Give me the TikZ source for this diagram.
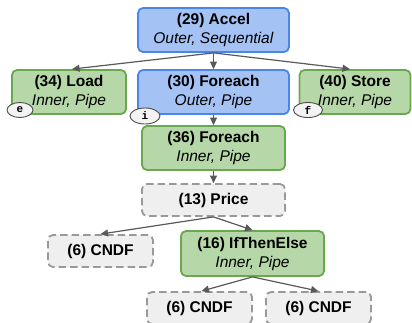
\documentclass[tikz,border=0pt]{standalone}
\usepackage{fontspec}
\setmainfont{Liberation Sans}
\setmonofont{Liberation Mono}
\usetikzlibrary{arrows.meta,shapes.geometric}
\definecolor{bluefill}{HTML}{A4C2F4}
\definecolor{blueline}{HTML}{4A86E8}
\definecolor{greenfill}{HTML}{B6D7A8}
\definecolor{greenline}{HTML}{6AA84F}
\definecolor{grayfill}{HTML}{EFEFEF}
\definecolor{grayline}{HTML}{999999}
\definecolor{arrowcol}{HTML}{595959}
\definecolor{lblfill}{HTML}{F3F3F3}
\begin{document}
\begin{tikzpicture}[x=1pt,y=-1pt,
  box/.style={rounded corners=5pt, inner sep=0pt, align=center, line width=1.8pt,
    font=\fontsize{15.5}{19}\selectfont, minimum height=44pt},
  bluebox/.style={box, draw=blueline, fill=bluefill},
  greenbox/.style={box, draw=greenline, fill=greenfill},
  graybox/.style={box, draw=grayline, fill=grayfill, dash pattern=on 7.5pt off 4pt, minimum height=32pt},
  lbl/.style={ellipse, draw=black!70, fill=lblfill, line width=0.9pt, inner sep=0pt,
    font=\ttfamily\bfseries\fontsize{11}{12}\selectfont},
  arr/.style={draw=arrowcol, line width=1.2pt, -{Triangle[length=7.5pt,width=7pt]}}
]
\useasboundingbox (0,0) rectangle (412,322);
\node[bluebox, minimum width=151pt] (accel) at (213.5,30) {\textbf{(29) Accel}\\\textit{Outer, Sequential}};
\node[greenbox, minimum width=114pt] (load) at (69,92) {\textbf{(34) Load}\\\textit{Inner, Pipe}};
\node[bluebox, minimum width=151pt] (fe30) at (213.5,92) {\textbf{(30) Foreach}\\\textit{Outer, Pipe}};
\node[greenbox, minimum width=111pt] (store) at (355,92) {\textbf{(40) Store}\\\textit{Inner, Pipe}};
\node[greenbox, minimum width=143pt] (fe36) at (213.5,148) {\textbf{(36) Foreach}\\\textit{Inner, Pipe}};
\node[graybox, minimum width=143pt] (price) at (213.5,200) {\textbf{(13) Price}};
\node[graybox, minimum width=105pt] (cndfa) at (100.5,251) {\textbf{(6) CNDF}};
\node[greenbox, minimum width=143pt, minimum height=45pt] (ite) at (252.5,253.5) {\textbf{(16) IfThenElse}\\\textit{Inner, Pipe}};
\node[graybox, minimum width=105pt] (cndfb) at (199.5,308) {\textbf{(6) CNDF}};
\node[graybox, minimum width=105pt] (cndfc) at (318.5,308) {\textbf{(6) CNDF}};
\node[lbl, minimum width=26pt, minimum height=15pt] (le) at (20,110) {e};
\node[lbl, minimum width=30pt, minimum height=16pt] (li) at (145,116) {i};
\node[lbl, minimum width=29pt, minimum height=15pt] (lf) at (308,110) {f};
\draw[arr] (accel.south) -- ([xshift=3pt]load.north);
\draw[arr] (accel.south) -- (fe30.north);
\draw[arr] (accel.south) -- ([xshift=-5pt]store.north);
\draw[arr] (fe30.south) -- (fe36.north);
\draw[arr] (fe36.south) -- (price.north);
\draw[arr] (price.south) -- (cndfa.north);
\draw[arr] (price.south) -- (ite.north);
\draw[arr] (ite.south) -- ([xshift=2pt]cndfb.north);
\draw[arr] (ite.south) -- (cndfc.north);
\end{tikzpicture}
\end{document}
